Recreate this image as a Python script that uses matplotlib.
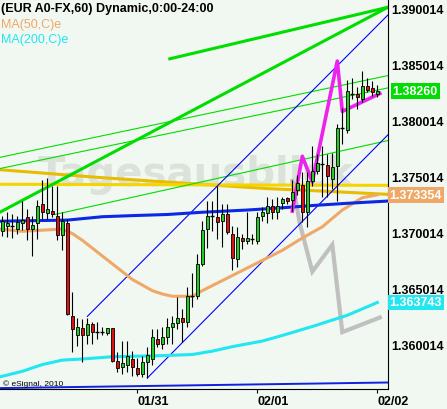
import matplotlib
matplotlib.use('Agg')
import matplotlib.pyplot as plt

plt.rcParams['font.family'] = ['Liberation Sans', 'DejaVu Sans']

# hourly EUR/USD candles (bar index 0..75)
opens = [1.3701, 1.3706, 1.3706, 1.3703, 1.3708, 1.3714, 1.3703, 1.3708, 1.3725, 1.3717,
         1.3719, 1.3715, 1.3698, 1.3708, 1.3625, 1.3608, 1.3615, 1.3608, 1.3618, 1.3611,
         1.3611, 1.3610, 1.3615, 1.3585, 1.3580, 1.3582, 1.3587, 1.3579, 1.3574, 1.3584,
         1.3587, 1.3605, 1.3600, 1.3607, 1.3616, 1.3619, 1.3624, 1.3620, 1.3643, 1.3643,
         1.3672, 1.3703, 1.3715, 1.3714, 1.3710, 1.3716, 1.3699, 1.3676, 1.3695, 1.3692,
         1.3694, 1.3692, 1.3715, 1.3717, 1.3724, 1.3718, 1.3726, 1.3731, 1.3729, 1.3738,
         1.3742, 1.3718, 1.3746, 1.3755, 1.3761, 1.3760, 1.3748, 1.3759, 1.3793, 1.3791,
         1.3824, 1.3824, 1.3819, 1.3831, 1.3829, 1.3824]
highs = [1.3715, 1.3718, 1.3716, 1.3715, 1.3728, 1.3721, 1.3715, 1.3729, 1.3747, 1.3749,
         1.3741, 1.3741, 1.3718, 1.3712, 1.3647, 1.3624, 1.3623, 1.3624, 1.3620, 1.3620,
         1.3616, 1.3615, 1.3615, 1.3593, 1.3603, 1.3603, 1.3594, 1.3588, 1.3590, 1.3598,
         1.3614, 1.3614, 1.3616, 1.3624, 1.3625, 1.3642, 1.3632, 1.3651, 1.3664, 1.3681,
         1.3710, 1.3728, 1.3728, 1.3741, 1.3725, 1.3725, 1.3706, 1.3705, 1.3699, 1.3718,
         1.3699, 1.3718, 1.3723, 1.3732, 1.3730, 1.3732, 1.3732, 1.3732, 1.3747, 1.3751,
         1.3754, 1.3754, 1.3777, 1.3770, 1.3777, 1.3770, 1.3771, 1.3797, 1.3811, 1.3836,
         1.3838, 1.3830, 1.3844, 1.3838, 1.3835, 1.3832]
lows = [1.3697, 1.3696, 1.3695, 1.3699, 1.3702, 1.3693, 1.3679, 1.3694, 1.3712, 1.3712,
        1.3714, 1.3693, 1.3684, 1.3626, 1.3593, 1.3599, 1.3584, 1.3600, 1.3600, 1.3605,
        1.3608, 1.3608, 1.3584, 1.3575, 1.3574, 1.3575, 1.3572, 1.3572, 1.3571, 1.3570,
        1.3582, 1.3598, 1.3596, 1.3600, 1.3600, 1.3614, 1.3602, 1.3616, 1.3633, 1.3641,
        1.3670, 1.3686, 1.3701, 1.3694, 1.3687, 1.3699, 1.3666, 1.3669, 1.3685, 1.3690,
        1.3690, 1.3690, 1.3710, 1.3708, 1.3712, 1.3712, 1.3721, 1.3725, 1.3719, 1.3733,
        1.3709, 1.3705, 1.3741, 1.3752, 1.3732, 1.3732, 1.3739, 1.3728, 1.3779, 1.3789,
        1.3819, 1.3810, 1.3816, 1.3825, 1.3822, 1.3821]
closes = [1.3710, 1.3708, 1.3706, 1.3709, 1.3711, 1.3703, 1.3707, 1.3724, 1.3718, 1.3721,
          1.3716, 1.3698, 1.3710, 1.3627, 1.3614, 1.3616, 1.3608, 1.3618, 1.3611, 1.3611,
          1.3611, 1.3615, 1.3585, 1.3579, 1.3583, 1.3590, 1.3580, 1.3574, 1.3584, 1.3591,
          1.3607, 1.3600, 1.3607, 1.3616, 1.3619, 1.3624, 1.3620, 1.3643, 1.3643, 1.3672,
          1.3702, 1.3715, 1.3715, 1.3709, 1.3716, 1.3700, 1.3677, 1.3696, 1.3692, 1.3695,
          1.3694, 1.3714, 1.3718, 1.3724, 1.3718, 1.3724, 1.3730, 1.3728, 1.3736, 1.3744,
          1.3718, 1.3746, 1.3755, 1.3762, 1.3761, 1.3750, 1.3758, 1.3793, 1.3793, 1.3826,
          1.3824, 1.3821, 1.3831, 1.3827, 1.3825, 1.3826]

# moving averages (bar index, price)
ma50_x = [-0.5, 4, 8, 12, 14, 16, 18, 20, 22, 24, 26, 28, 30, 32, 34, 36, 38, 40, 44,
          48, 52, 56, 60, 64, 68, 72, 75]
ma50_y = [1.3703, 1.3701, 1.3702, 1.3703, 1.3699, 1.3693, 1.3686, 1.3679, 1.3672, 1.3665,
          1.3658, 1.3653, 1.3648, 1.3645, 1.3643, 1.3643, 1.3643, 1.3648, 1.3657, 1.3666,
          1.3675, 1.3684, 1.3695, 1.3705, 1.3720, 1.3731, 1.373354]
ma200_x = [-0.5, 4, 8, 12, 16, 22, 32, 38, 42, 46, 52, 56, 62, 69, 75]
ma200_y = [1.3571, 1.3576, 1.3582, 1.3586, 1.3587, 1.3589, 1.3590, 1.3591, 1.3594, 1.3598,
           1.3603, 1.3608, 1.3616, 1.3626, 1.363743]
slow_x = [-0.5, 13, 20, 26, 33, 40, 49, 56, 62, 69, 77.1]
slow_y = [1.3710, 1.3711, 1.3714, 1.3715, 1.3716, 1.3718, 1.3720, 1.3722, 1.3724, 1.3726, 1.3728]
yellow_x = [-0.5, 77.1]
yellow_y = [1.3743, 1.3742]
gold_x = [-0.5, 19.5, 39.5, 53.5, 63.5, 77.1]
gold_y = [1.3756, 1.3749, 1.3743, 1.3739, 1.3737, 1.3734]

# drawn trendlines: x0, y0, x1, y1
thick_green = [[-0.5, 1.3718, 77.1, 1.3901],
               [33.5, 1.3855, 77.1, 1.3901]]
thin_green = [[-0.5, 1.3767, 77.1, 1.3840],
              [-0.5, 1.3757, 77.1, 1.3829],
              [10.5, 1.3716, 77.1, 1.3782]]
thin_blue = [[17, 1.3625, 77.1, 1.3894],
             [29, 1.3570, 77.1, 1.3787]]
bottom_blue = [-0.5, 1.3561, 77.1, 1.3566]

# projection zig-zags
mag_x = [58, 60, 62, 67, 68, 75.5]
mag_y = [1.3719, 1.3768, 1.3745, 1.3853, 1.3808, 1.3824]
gray_x = [58, 59.5, 62, 66, 68, 75.5]
gray_y = [1.3746, 1.3708, 1.3665, 1.3689, 1.3611, 1.3624]

ytick_vals = [1.360014, 1.365014, 1.370014, 1.375014, 1.380014, 1.385014, 1.390014]
xtick_pos = [27, 51, 75]
xtick_labels = ['01/31', '02/01', '02/02']

bg = '#f1f8f1'
fig = plt.figure(figsize=(4.47, 4.10), dpi=100)
fig.patch.set_facecolor(bg)
ax = fig.add_axes([0, 20 / 410, 388 / 447, 390 / 410])
ax.set_facecolor(bg)
ax.set_xlim(-0.46, 77.14)
ax.set_ylim(1.35602, 1.39084)

# watermark
ax.text(38.7, 1.3742, 'Tagesausblick', fontsize=29, fontweight='bold', color='#dae2da',
        ha='center', va='baseline', family='DejaVu Sans', zorder=0.5)

# indicator lines
ax.plot(gray_x, gray_y, color='#c0c0c0', lw=3, zorder=1.5, solid_joinstyle='miter')
ax.plot(gold_x, gold_y, color='#e8bc00', lw=2.2, zorder=2)
ax.plot(yellow_x, yellow_y, color='#f6d400', lw=2.2, zorder=2)
for x0, y0, x1, y1 in thin_green:
    ax.plot([x0, x1], [y0, y1], color='#00dd00', lw=0.8, zorder=2)
for x0, y0, x1, y1 in thick_green:
    ax.plot([x0, x1], [y0, y1], color='#00dd00', lw=2.2, zorder=2)
for x0, y0, x1, y1 in thin_blue:
    ax.plot([x0, x1], [y0, y1], color='#0000ff', lw=0.8, zorder=2)
ax.plot(bottom_blue[0::2], bottom_blue[1::2], color='#1020e0', lw=1.4, zorder=2)
ax.plot(ma200_x, ma200_y, color='#22e6f0', lw=2.2, zorder=2)
ax.plot(ma50_x, ma50_y, color='#f0a868', lw=2.2, zorder=2)
ax.plot(slow_x, slow_y, color='#0a28e6', lw=2.2, zorder=2.2)
ax.plot(mag_x, mag_y, color='#ee22ee', lw=2.6, zorder=2.5)

# candles
for i in range(len(opens)):
    o, h, l, c = opens[i], highs[i], lows[i], closes[i]
    ax.vlines(i, l, h, color='black', lw=0.8, zorder=3)
    if abs(c - o) < 0.00003:
        ax.hlines(o, i - 0.4, i + 0.4, color='black', lw=1.0, zorder=4)
    else:
        col = '#22cc22' if c > o else '#dd1111'
        ax.bar(i, c - o, bottom=o, width=0.7, color=col, edgecolor='black', lw=0.6, zorder=4)

# axes styling
for s in ['top', 'left']:
    ax.spines[s].set_visible(False)
for s in ['right', 'bottom']:
    ax.spines[s].set_color('black')
    ax.spines[s].set_linewidth(0.8)
ax.yaxis.tick_right()
ax.set_yticks(ytick_vals)
ax.set_yticklabels(['%.6f' % v for v in ytick_vals], fontsize=9, fontweight='bold')
ax.tick_params(axis='y', length=0, pad=2)
ax.set_xticks(xtick_pos)
ax.set_xticklabels(xtick_labels, fontsize=9, fontweight='bold', ha='left')
ax.tick_params(axis='x', length=3, pad=1, width=0.8)

# last-value boxes
tr = ax.get_yaxis_transform()
ax.text(1.012, closes[-1], '%.5f' % closes[-1], transform=tr, color='white', fontsize=9,
        fontweight='bold', va='center', ha='left', clip_on=False,
        bbox=dict(boxstyle='square,pad=0.15', fc='#00dd00', ec='none'))
ax.text(1.004, ma50_y[-1], '%.6f' % ma50_y[-1], transform=tr, color='white', fontsize=9,
        fontweight='bold', va='center', ha='left', clip_on=False,
        bbox=dict(boxstyle='square,pad=0.15', fc='#f0a868', ec='none'))
ax.text(1.004, ma200_y[-1], '%.6f' % ma200_y[-1], transform=tr, color='white', fontsize=9,
        fontweight='bold', va='center', ha='left', clip_on=False,
        bbox=dict(boxstyle='square,pad=0.15', fc='#22e6f0', ec='none'))

# header text
fig.text(1 / 447, 1 - 9 / 410, '(EUR A0-FX,60) Dynamic,0:00-24:00', fontsize=9,
         fontweight='bold', va='center', ha='left')
fig.text(1 / 447, 1 - 25 / 410, 'MA(50,C)e', fontsize=9, color='#f0a868', va='center')
fig.text(1 / 447, 1 - 40 / 410, 'MA(200,C)e', fontsize=9, color='#22e6f0', va='center')
fig.text(3 / 447, 1 - 384 / 410, '\u00a9 eSignal, 2010', fontsize=6, va='center')

fig.savefig('out.png', dpi=100, facecolor=bg)
